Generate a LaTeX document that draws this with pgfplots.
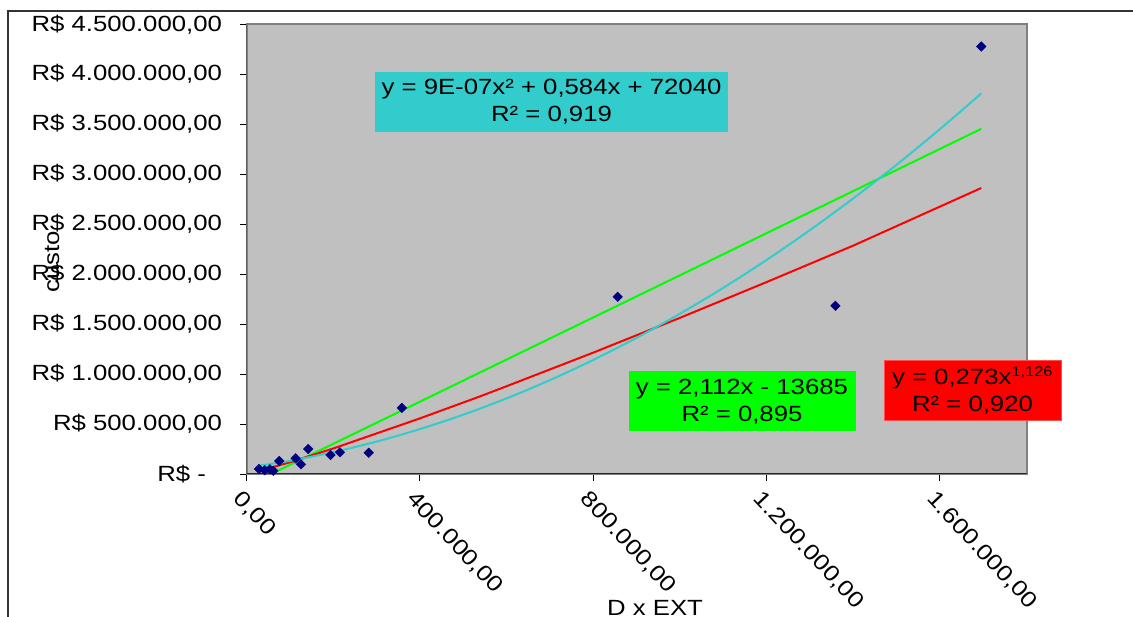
\documentclass[border=0pt]{standalone}
\usepackage{pgfplots}
\pgfplotsset{compat=1.18}
\usepackage{fontspec}
\setmainfont{Liberation Sans}[FakeStretch=1.17]
\definecolor{plotgray}{HTML}{C0C0C0}
\definecolor{framegray}{HTML}{808080}
\definecolor{navyblue}{HTML}{000080}
\definecolor{turq}{HTML}{33CCCC}
\definecolor{lgreen}{HTML}{00FF00}
\definecolor{lred}{HTML}{FF0000}
\begin{document}
\begin{tikzpicture}[font=\fontsize{22}{27}\selectfont]
\useasboundingbox (0,0) rectangle (1133pt,617pt);
% outer frame
\draw[line width=1.5pt, black!80] (8pt,-5pt) -- (8pt,606pt) -- (1140pt,606pt);
\begin{axis}[
  at={(246.5pt,143pt)}, anchor=south west,
  scale only axis, width=780pt, height=449.7pt,
  xmin=0, xmax=1800000, ymin=0, ymax=4500000,
  axis background/.style={fill=plotgray},
  axis line style={draw=framegray, line width=2pt},
  xtick={0,400000,800000,1200000,1600000},
  xticklabels={{0,00},{400.000,00},{800.000,00},{1.200.000,00},{1.600.000,00}},
  ytick={0,500000,1000000,1500000,2000000,2500000,3000000,3500000,4000000,4500000},
  yticklabels={{R\$ -\kern16pt},{R\$ 500.000,00},{R\$ 1.000.000,00},{R\$ 1.500.000,00},{R\$ 2.000.000,00},{R\$ 2.500.000,00},{R\$ 3.000.000,00},{R\$ 3.500.000,00},{R\$ 4.000.000,00},{R\$ 4.500.000,00}},
  xtick pos=bottom, ytick pos=left,
  tick align=outside, major tick length=7pt,
  tick style={black, line width=0.8pt},
  scaled ticks=false,
  /pgf/number format/assume math mode=true,
  yticklabel style={font=\fontsize{22}{27}\selectfont, xshift=-14pt},
  xticklabel style={font=\fontsize{22}{27}\selectfont, rotate=-47, anchor=north west, xshift=1pt, yshift=-4pt},
  clip=true,
]
% trend lines
\addplot[lgreen, line width=2pt] coordinates {(57000,0) (1695700,3454000)};
\addplot[lred, line width=2pt] coordinates {
 (27000,27000) (100000,117000) (200000,255000) (400000,556000) (538000,775000)
 (600000,878000) (800000,1214000) (1000000,1562000) (1200000,1920000)
 (1400000,2285000) (1695700,2862000)};
\addplot[turq, line width=2pt, smooth] coordinates {
 (28000,82000) (100000,132000) (200000,218000) (300000,324000) (400000,449000)
 (500000,593000) (600000,756000) (700000,939000) (800000,1141000) (900000,1362000)
 (1000000,1603000) (1100000,1862000) (1200000,2141000) (1300000,2440000)
 (1400000,2757000) (1500000,3094000) (1600000,3450000) (1695700,3808000)};
% data
\addplot[only marks, mark=square*, mark size=3.4pt,
  mark options={rotate=45, fill=navyblue, draw=navyblue}] coordinates {
 (1695700,4278000) (856500,1773000) (1359000,1683000) (358500,661000)
 (282000,213000) (142500,250000) (215600,217000) (194000,190000)
 (113400,157000) (125600,97000) (75600,130000) (28800,50000)
 (54000,47000) (61800,33000) (42000,38000)};
\draw[black!85, line width=1.2pt] (rel axis cs:0,1) -- (rel axis cs:0,0) -- (rel axis cs:1,0);
\end{axis}
% equation boxes
\node[fill=turq, minimum width=353pt, minimum height=60pt, align=center, inner sep=0pt]
  at (551.5pt,515pt) {y = 9E-07x² + 0,584x + 72040\\R² = 0,919};
\node[fill=lgreen, minimum width=227pt, minimum height=60pt, align=center, inner sep=0pt]
  at (742pt,215.5pt) {y = 2,112x - 13685\\R² = 0,895};
\node[fill=lred, draw=lred!70, minimum width=177pt, minimum height=60pt, align=center, inner sep=0pt]
  at (972.5pt,226.5pt) {y = 0,273x\textsuperscript{\fontsize{14}{14}\selectfont 1,126}\\R² = 0,920};
% axis titles
\node[rotate=90] at (52pt,355pt) {custo};
\node at (655pt,9pt) {D x EXT};
\end{tikzpicture}
\end{document}
